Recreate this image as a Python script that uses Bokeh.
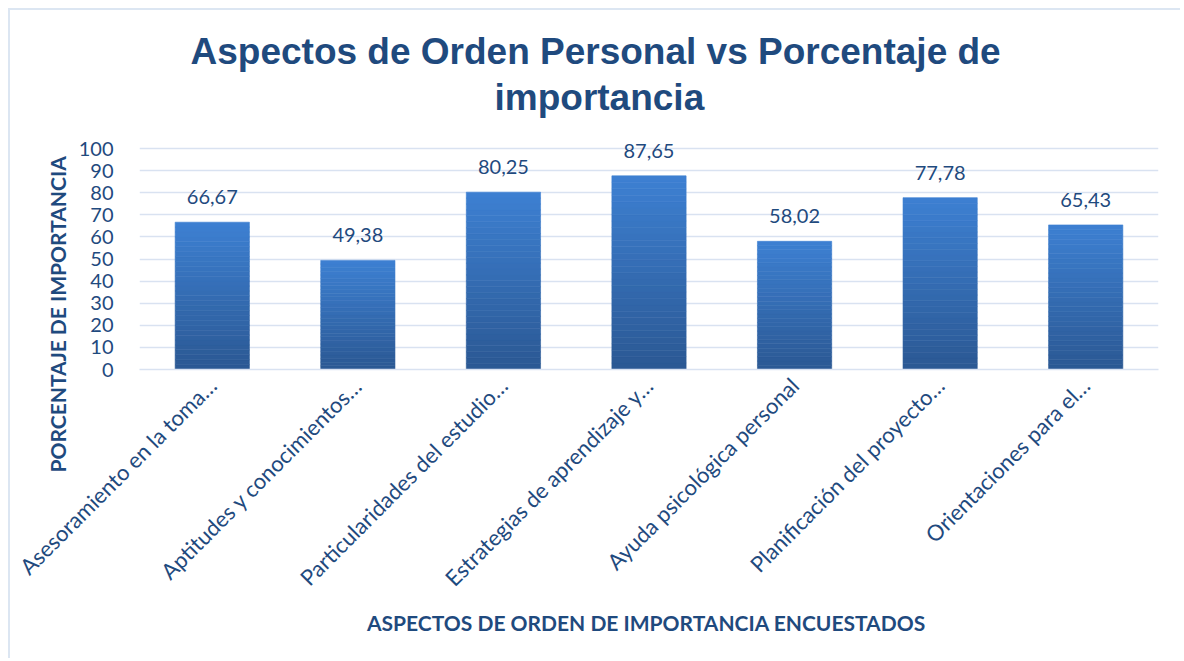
import math
from bokeh.plotting import figure
from bokeh.models import ColumnDataSource, Range1d, FactorRange, LabelSet, FixedTicker, Title
from bokeh.core.properties import value
from bokeh.embed import file_html
from bokeh.resources import INLINE

categories = [
    "Asesoramiento en la toma…",
    "Aptitudes y conocimientos…",
    "Particularidades del estudio…",
    "Estrategias de aprendizaje y…",
    "Ayuda psicológica personal",
    "Planificación del proyecto…",
    "Orientaciones para el…",
]
values = [66.67, 49.38, 80.25, 87.65, 58.02, 77.78, 65.43]
y_ticks = [0, 10, 20, 30, 40, 50, 60, 70, 80, 90, 100]

title_lines = ["Aspectos de Orden Personal vs Porcentaje de", "importancia"]
y_title = "PORCENTAJE DE IMPORTANCIA"
x_title = "ASPECTOS  DE ORDEN DE IMPORTANCIA ENCUESTADOS"

TXT = "#1F4A7E"
GRID = "#D9E2F1"
TOP_C = (0x3D, 0x80, 0xD2)
BOT_C = (0x2B, 0x58, 0x93)

p = figure(
    x_range=FactorRange(*categories),
    y_range=Range1d(0, 105),
    width=1172, height=650,
    min_border_left=129, min_border_right=24,
    min_border_top=127, min_border_bottom=291,
    output_backend="svg", toolbar_location=None,
)
p.styles = {"margin-left": "8px", "margin-top": "8px",
            "border-top": "2px solid #DCE6F2", "border-left": "2px solid #DCE6F2"}
p.outline_line_color = None
p.background_fill_color = "white"
p.border_fill_color = "white"

# gradient bars made of stacked slices of each value
n = 30
for k in range(n):
    f0 = k / n
    f1 = (k + 1) / n
    t = (f0 + f1) / 2
    col = "#%02x%02x%02x" % tuple(int(round(b + (a - b) * t)) for a, b in zip(TOP_C, BOT_C))
    src = ColumnDataSource(dict(
        x=categories,
        bottom=[v * f0 for v in values],
        top=[v * f1 for v in values],
    ))
    p.vbar(x="x", bottom="bottom", top="top", width=0.51, source=src,
           fill_color=col, line_color=col, line_width=0.6)

lab_src = ColumnDataSource(dict(
    x=categories, y=values,
    t=[("%.2f" % v).replace(".", ",") for v in values],
))
p.add_layout(LabelSet(x="x", y="y", text="t", source=lab_src, y_offset=18,
                      text_align="center", text_baseline="bottom",
                      text_font=value("Lato"), text_font_size="20px", text_color=TXT))

p.xgrid.visible = False
p.ygrid.grid_line_color = GRID
p.ygrid.grid_line_width = 1.5
p.yaxis.ticker = FixedTicker(ticks=y_ticks)
p.yaxis.axis_line_color = None
p.yaxis.major_tick_line_color = None
p.yaxis.minor_tick_line_color = None
p.yaxis.major_label_text_font = "Lato"
p.yaxis.major_label_text_font_size = "20px"
p.yaxis.major_label_text_color = TXT
p.yaxis.major_label_standoff = 20
p.yaxis.axis_label = y_title + "\u00a0" * 24
p.yaxis.axis_label_text_font = "Lato"
p.yaxis.axis_label_text_font_style = "bold"
p.yaxis.axis_label_text_font_size = "21px"
p.yaxis.axis_label_text_color = TXT
p.yaxis.axis_label_standoff = 6

p.xaxis.axis_line_color = GRID
p.xaxis.axis_line_width = 1.5
p.xaxis.major_tick_line_color = None
p.xaxis.major_label_orientation = math.pi / 4
p.xaxis.major_label_text_font = "Lato"
p.xaxis.major_label_text_font_size = "22px"
p.xaxis.major_label_text_color = TXT
p.xaxis.major_label_standoff = 6
p.xaxis.axis_label = x_title
p.xaxis.axis_label_text_font = "Lato"
p.xaxis.axis_label_text_font_style = "bold"
p.xaxis.axis_label_text_font_size = "21px"
p.xaxis.axis_label_text_color = TXT
p.xaxis.axis_label_standoff = 6

spacer = Title(text="\u00a0", standoff=17, text_font_size="1px")
t2 = Title(text=title_lines[1], align="left", offset=355, standoff=0,
           text_font="Liberation Sans", text_font_style="bold",
           text_font_size="37px", text_color=TXT)
t1 = Title(text=title_lines[0], align="left", offset=51, standoff=6,
           text_font="Liberation Sans", text_font_style="bold",
           text_font_size="37px", text_color=TXT)
p.add_layout(spacer, "above")
p.add_layout(t2, "above")
p.add_layout(t1, "above")

open("out.html", "w").write(file_html(p, INLINE))
